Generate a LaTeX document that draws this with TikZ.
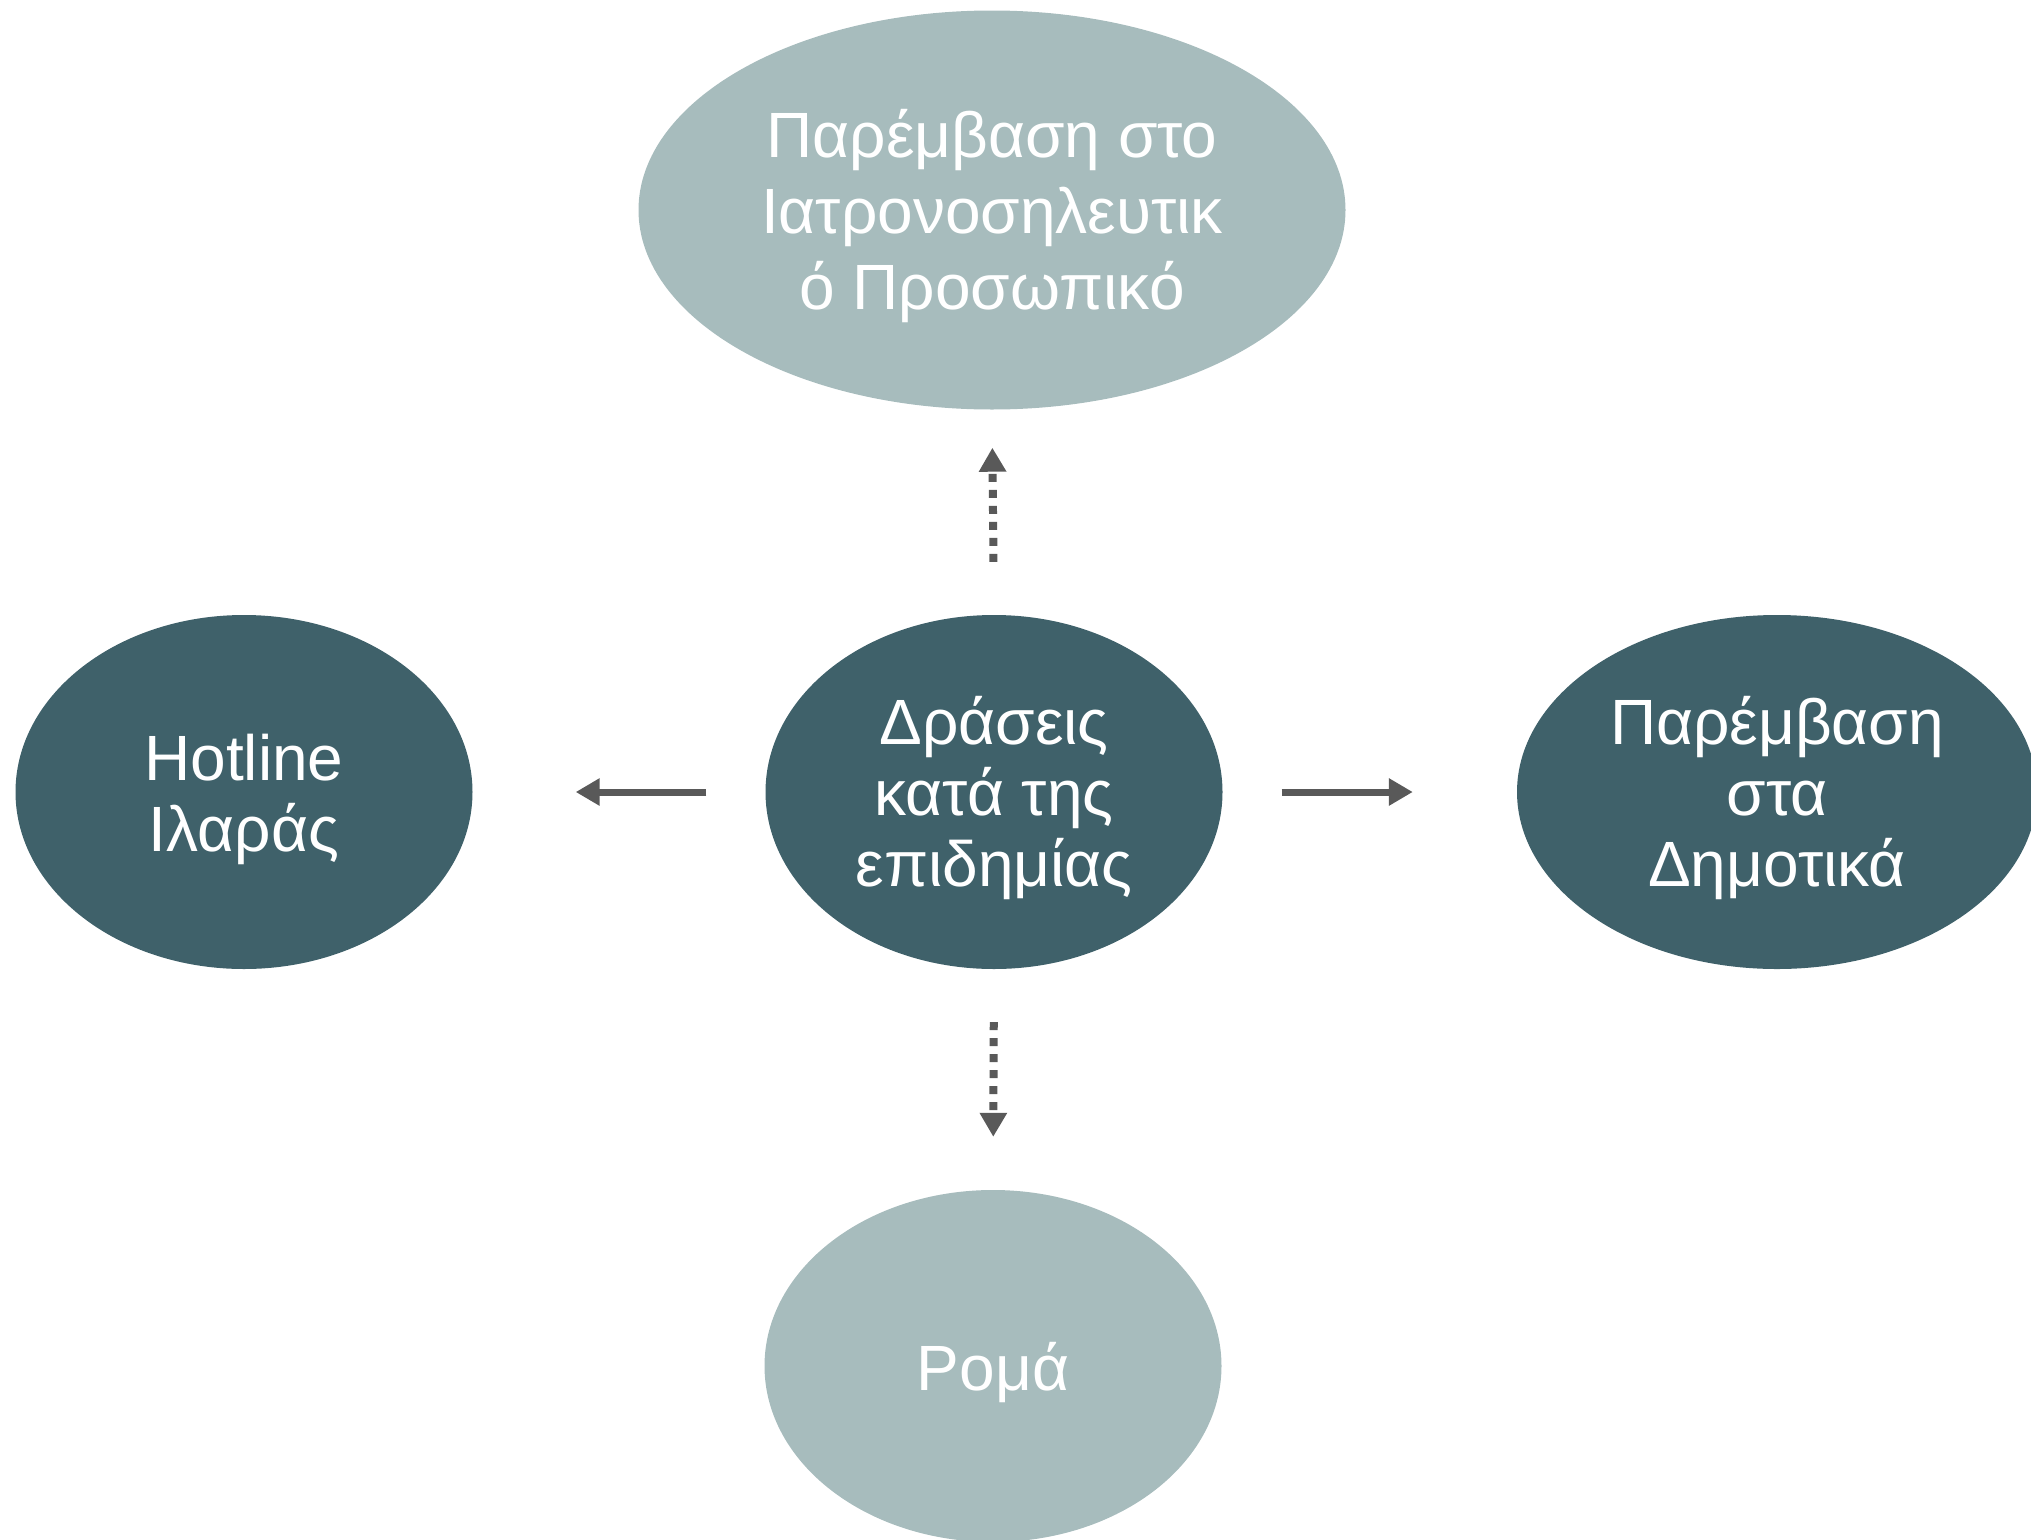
\documentclass[tikz,border=0pt]{standalone}
\usepackage{fontspec}
\setmainfont{Liberation Sans}
\usetikzlibrary{shapes.geometric,arrows.meta}
\definecolor{darkteal}{HTML}{3F616A}
\definecolor{lightteal}{HTML}{A7BCBD}
\definecolor{arrowgray}{HTML}{595959}
\newcommand\mytopstrut{\rule{0pt}{61pt}}
\tikzset{
  blob/.style={ellipse, inner sep=0pt, text=white, align=center,
    font=\fontsize{64}{71}\selectfont},
  darkblob/.style={blob, fill=darkteal},
  lightblob/.style={blob, fill=lightteal},
  solidarrow/.style={draw=arrowgray, line width=7pt,
    -{Triangle[length=24pt,width=26pt]}, arrowgray},
  dotarrow/.style={draw=arrowgray, line width=8pt, dash pattern=on 8pt off 8pt,
    -{Triangle[length=24pt,width=26pt]}, arrowgray}
}
\begin{document}
\begin{tikzpicture}[x=1pt,y=-1pt]
\useasboundingbox (0,0) rectangle (2031,1539);
\clip (0,0) rectangle (2031,1539);
\node[lightblob, minimum width=707pt, minimum height=399pt,
  font=\fontsize{64}{76}\selectfont] (top) at (992,210)
  {\mytopstrut Παρέμβαση στο\\Ιατρονοσηλευτικ\\ό Προσωπικό};
\node[darkblob, minimum width=457pt, minimum height=354pt] (c) at (994,792)
  {\mytopstrut Δράσεις\\κατά της\\επιδημίας};
\node[darkblob, minimum width=457pt, minimum height=354pt] (l) at (244,792)
  {\mytopstrut Hotline\\Ιλαράς};
\node[darkblob, minimum width=520pt, minimum height=354pt] (r) at (1777,792)
  {\mytopstrut Παρέμβαση\\στα\\Δημοτικά};
\node[lightblob, minimum width=457pt, minimum height=352pt] (b) at (993,1366)
  {\mytopstrut Ρομά};
\draw[solidarrow, shorten <=59pt, shorten >=103pt] (c.west) -- (l.east);
\draw[solidarrow, shorten <=59pt, shorten >=104pt] (c.east) -- (r.west);
\draw[dotarrow, shorten <=53pt, shorten >=38pt] (c.north) -- (top.south);
\draw[dotarrow, shorten <=53pt, shorten >=53pt] (c.south) -- (b.north);
\end{tikzpicture}
\end{document}
